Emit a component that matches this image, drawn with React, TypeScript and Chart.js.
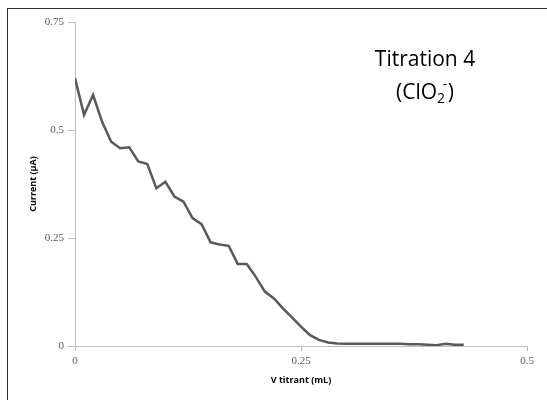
import React, { useEffect, useRef } from "react";
import { Chart, registerables } from "chart.js";

Chart.register(...registerables);

const volumes = [
  0.0, 0.01, 0.02, 0.03, 0.04, 0.05, 0.06, 0.07, 0.08, 0.09,
  0.1, 0.11, 0.12, 0.13, 0.14, 0.15, 0.16, 0.17, 0.18, 0.19,
  0.2, 0.21, 0.22, 0.23, 0.24, 0.25, 0.26, 0.27, 0.28, 0.29,
  0.3, 0.31, 0.32, 0.33, 0.34, 0.35, 0.36, 0.37, 0.38, 0.39,
  0.4, 0.41, 0.42, 0.43,
];
const currents = [
  0.62, 0.535, 0.581, 0.519, 0.473, 0.458, 0.46, 0.427, 0.421, 0.365,
  0.38, 0.346, 0.334, 0.296, 0.282, 0.24, 0.235, 0.232, 0.19, 0.19,
  0.16, 0.126, 0.11, 0.087, 0.066, 0.045, 0.025, 0.014, 0.008, 0.006,
  0.005, 0.005, 0.005, 0.005, 0.005, 0.005, 0.005, 0.004, 0.004, 0.003,
  0.002, 0.005, 0.003, 0.003,
];
const xTitle = "V titrant (mL)";
const yTitle = "Current (µA)";
const titleLine1 = "Titration 4";

const axisGray = "#bfbfbf";
const tickColor = "#595959";

const fmt = (v: any) => String(Number(Number(v).toFixed(2)));

const annotationPlugin = {
  id: "titleAnnotation",
  afterDraw(chart: any) {
    const ctx = chart.ctx;
    ctx.save();
    ctx.fillStyle = "#000";
    ctx.textBaseline = "alphabetic";
    const big = "21px 'Open Sans', sans-serif";
    const small = "14px 'Open Sans', sans-serif";
    const cx = 425;
    ctx.font = big;
    ctx.textAlign = "center";
    ctx.fillText(titleLine1, cx, 66);
    ctx.textAlign = "left";
    ctx.font = big;
    const w0 = ctx.measureText("(ClO").width;
    const w3 = ctx.measureText(")").width;
    ctx.font = small;
    const w1 = ctx.measureText("2").width;
    const w2 = ctx.measureText("-").width;
    const mid = w1 + w2 * 0.6;
    const total = w0 + mid + w3;
    let x = cx - total / 2;
    const baseY = 99;
    ctx.font = big;
    ctx.fillText("(ClO", x, baseY);
    x += w0;
    ctx.font = small;
    ctx.fillText("2", x, baseY + 4);
    ctx.fillText("-", x + w1 * 0.7, baseY - 10);
    x += mid;
    ctx.font = big;
    ctx.fillText(")", x, baseY);
    ctx.restore();
  },
};

export default function App() {
  const ref = useRef<HTMLCanvasElement | null>(null);
  useEffect(() => {
    if (!ref.current) return;
    const chart = new Chart(ref.current, {
      type: "line",
      data: {
        datasets: [
          {
            data: volumes.map((v, i) => ({ x: v, y: currents[i] })),
            borderColor: "#595959",
            borderWidth: 2.5,
            pointRadius: 0,
            tension: 0,
            fill: false,
          },
        ],
      },
      options: {
        animation: false,
        responsive: false,
        maintainAspectRatio: false,
        layout: { padding: { left: 0, right: 20, top: 22, bottom: 0 } },
        plugins: { legend: { display: false }, tooltip: { enabled: false } },
        scales: {
          x: {
            type: "linear",
            min: 0,
            max: 0.5,
            ticks: {
              stepSize: 0.25,
              color: tickColor,
              padding: 4,
              font: { family: "'Liberation Serif', serif", size: 11 },
              callback: fmt,
            },
            grid: { display: true, drawOnChartArea: false, drawTicks: true, tickLength: 5, color: axisGray },
            border: { display: true, color: axisGray },
            title: {
              display: true,
              text: xTitle,
              color: "#000",
              font: { family: "'Open Sans', sans-serif", size: 9, weight: "bold" },
              padding: { top: 0, bottom: 14 },
            },
            afterFit: (s: any) => {
              s.height = 54;
            },
          },
          y: {
            type: "linear",
            min: 0,
            max: 0.75,
            ticks: {
              stepSize: 0.25,
              color: tickColor,
              padding: 4,
              font: { family: "'Liberation Serif', serif", size: 11 },
              callback: fmt,
            },
            grid: { display: true, drawOnChartArea: false, drawTicks: true, tickLength: 7, color: axisGray },
            border: { display: true, color: axisGray },
            title: {
              display: true,
              text: yTitle,
              color: "#000",
              font: { family: "'Open Sans', sans-serif", size: 9, weight: "bold" },
              padding: { top: 28, bottom: 0 },
            },
            afterFit: (s: any) => {
              s.width = 75;
            },
          },
        },
      },
      plugins: [annotationPlugin],
    });
    return () => chart.destroy();
  }, []);
  return (
    <div style={{ position: "fixed", left: 0, top: 0, width: 547, height: 400, background: "#fff" }}>
      <canvas ref={ref} width={547} height={400} style={{ position: "absolute", left: 0, top: 0 }} />
      <div
        style={{
          position: "absolute",
          left: 7,
          top: 8,
          width: 540,
          height: 392,
          borderLeft: "1px solid #333",
          borderTop: "1px solid #333",
          pointerEvents: "none",
        }}
      />
    </div>
  );
}
